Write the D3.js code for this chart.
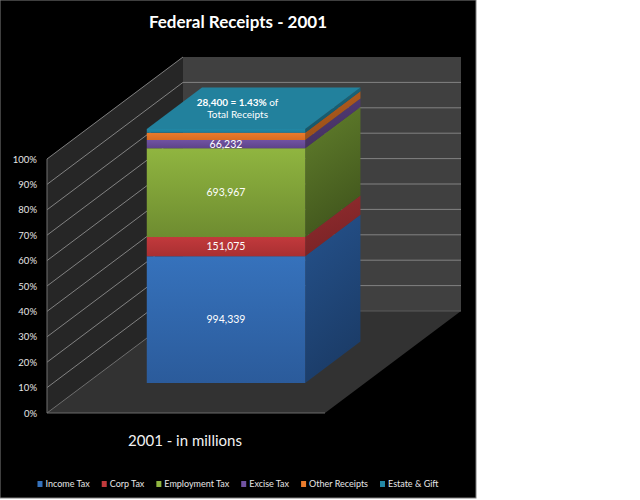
<!DOCTYPE html>
<html>
<head>
<meta charset="utf-8">
<script src="https://cdn.jsdelivr.net/npm/d3@7"></script>
<style>
  body { margin: 0; background: #fff; }
  svg text { font-family: Lato, "Noto Sans", sans-serif; }
</style>
</head>
<body>
<svg id="chart" width="640" height="500"></svg>
<script>
// data
const years = ["2001"];
const categories = ["Income Tax", "Corp Tax", "Employment Tax", "Excise Tax", "Other Receipts", "Estate & Gift"];
const receipts = [994339, 151075, 693967, 66232, 57069, 28400];
const labelled = ["Income Tax", "Corp Tax", "Employment Tax", "Excise Tax"];
const percentTicks = [0, 0.1, 0.2, 0.3, 0.4, 0.5, 0.6, 0.7, 0.8, 0.9, 1];

// colours: [front top, front bottom, side top, side bottom]
const colours = {
  "Income Tax":     ["#3672bc", "#2b5b9b", "#25528c", "#1b3c68"],
  "Corp Tax":       ["#c23a3c", "#a92f32", "#922c2e", "#7a2326"],
  "Employment Tax": ["#90b540", "#6e8c30", "#62802c", "#42571d"],
  "Excise Tax":     ["#7153a3", "#5d4389", "#523c78", "#45305f"],
  "Other Receipts": ["#ea7b2c", "#d86c21", "#b35e1f", "#9a4f18"],
  "Estate & Gift":  ["#2287a5", "#1e7c98", "#196980", "#145669"]
};
const topColour = "#22819d";

const panelW = 476, panelH = 498;

// 3d frame
const origin = { x: 47, y: 413 };
const plotW = 278, plotH = 254;
const depth = { x: 136, y: 102 };
const barZ = [0.294, 0.70];

const svg = d3.select("#chart");
const defs = svg.append("defs");

svg.append("rect")
  .attr("x", 0).attr("y", 0)
  .attr("width", panelW).attr("height", panelH)
  .attr("fill", "#000")
  .attr("stroke", "#7f7f7f").attr("stroke-width", 1);

const x = d3.scaleBand().domain(years).range([0, plotW]).padding(0.274);
const y = d3.scaleLinear().domain([0, 1]).range([origin.y, origin.y - plotH]);

const px = (v, z) => origin.x + v + z * depth.x;
const py = (v, z) => y(v) - z * depth.y;
const pt = (vx, vy, z) => [px(vx, z), py(vy, z)];
const line = d3.line();

// walls
svg.append("path")
  .attr("d", line([pt(0, 0, 0), pt(0, 1, 0), pt(0, 1, 1), pt(0, 0, 1)]) + "Z")
  .attr("fill", "#262626");
svg.append("path")
  .attr("d", line([pt(0, 0, 1), pt(0, 1, 1), pt(plotW, 1, 1), pt(plotW, 0, 1)]) + "Z")
  .attr("fill", "#404040");
svg.append("path")
  .attr("d", line([pt(0, 0, 0), pt(plotW, 0, 0), pt(plotW, 0, 1), pt(0, 0, 1)]) + "Z")
  .attr("fill", "#323232");

// gridlines
const grid = svg.append("g");
grid.selectAll(".side")
  .data(percentTicks.slice(1))
  .join("path")
  .attr("d", t => line([pt(0, t, 0), pt(0, t, 1)]))
  .attr("stroke", "#8c8c8c").attr("stroke-width", 0.9);
grid.selectAll(".back")
  .data(percentTicks.slice(1, -1))
  .join("path")
  .attr("d", t => line([pt(0, t, 1), pt(plotW, t, 1)]))
  .attr("stroke", "#828282").attr("stroke-width", 1);
grid.append("path")
  .attr("d", line([pt(0, 0, 0), pt(0, 1, 0)]))
  .attr("stroke", "#707070");
grid.append("path")
  .attr("d", line([pt(0, 0, 0), pt(plotW, 0, 0)]))
  .attr("stroke", "#6a6a6a");
grid.append("path")
  .attr("d", line([pt(0, 0, 0), pt(0, 0, 1)]))
  .attr("stroke", "#707070");
grid.append("path")
  .attr("d", line([pt(0, 0, 1), pt(plotW, 0, 1)]))
  .attr("stroke", "#5a5a5a");

// y axis
const axis = svg.append("g")
  .attr("transform", `translate(${origin.x},0)`)
  .call(d3.axisLeft(y).tickValues(percentTicks).tickFormat(d3.format(".0%")).tickSize(0).tickPadding(10));
axis.select(".domain").remove();
axis.selectAll("text")
  .attr("fill", "#e6e6e6")
  .style("font-size", "9.5px")
  .style("font-family", "Lato, sans-serif");

// stacked bar
const row = { year: years[0] };
categories.forEach((c, i) => row[c] = receipts[i]);
const series = d3.stack().keys(categories).offset(d3.stackOffsetExpand)([row]);
const total = d3.sum(receipts);

categories.forEach((c, i) => {
  const cl = colours[c];
  const gf = defs.append("linearGradient").attr("id", "f" + i)
    .attr("x1", 0).attr("y1", 0).attr("x2", 0).attr("y2", 1);
  gf.append("stop").attr("offset", 0).attr("stop-color", cl[0]);
  gf.append("stop").attr("offset", 1).attr("stop-color", cl[1]);
  const gs = defs.append("linearGradient").attr("id", "s" + i)
    .attr("x1", 0).attr("y1", 0).attr("x2", 0.3).attr("y2", 1);
  gs.append("stop").attr("offset", 0).attr("stop-color", cl[2]);
  gs.append("stop").attr("offset", 1).attr("stop-color", cl[3]);
});

const x0 = x(years[0]), x1 = x0 + x.bandwidth();
const [zf, zb] = barZ;
const bar = svg.append("g");

series.forEach((s, i) => {
  const [lo, hi] = s[0];
  bar.append("path")
    .attr("d", line([pt(x1, lo, zf), pt(x1, lo, zb), pt(x1, hi, zb), pt(x1, hi, zf)]) + "Z")
    .attr("fill", `url(#s${i})`);
  bar.append("path")
    .attr("d", line([pt(x0, lo, zf), pt(x1, lo, zf), pt(x1, hi, zf), pt(x0, hi, zf)]) + "Z")
    .attr("fill", `url(#f${i})`);
});

// top face
bar.append("path")
  .attr("d", line([pt(x0, 1, zf), pt(x1, 1, zf), pt(x1, 1, zb), pt(x0, 1, zb)]) + "Z")
  .attr("fill", topColour);

// value labels on front face
const cx = px(x0 + x.bandwidth() / 2, zf);
series.filter(s => labelled.includes(s.key)).forEach(s => {
  const [lo, hi] = s[0];
  svg.append("text")
    .attr("x", cx)
    .attr("y", py((lo + hi) / 2, zf))
    .attr("dy", "0.35em")
    .attr("text-anchor", "middle")
    .attr("fill", "#fff")
    .style("font-size", "10.5px")
    .text(d3.format(",")(s[0].data[s.key]));
});

// estate & gift label on top face
const estate = receipts[categories.indexOf("Estate & Gift")];
const tx = px(x0 + x.bandwidth() / 2, (zf + zb) / 2) - 16;
const ty = py(1, (zf + zb) / 2);
const tl = svg.append("text")
  .attr("x", tx).attr("y", ty - 2)
  .attr("text-anchor", "middle")
  .attr("fill", "#fff")
  .style("font-size", "10px");
tl.append("tspan").style("font-weight", "bold")
  .text(`${d3.format(",")(estate)} = ${d3.format(".2%")(estate / total)}`);
tl.append("tspan").text(" of");
svg.append("text")
  .attr("x", tx).attr("y", ty + 10)
  .attr("text-anchor", "middle")
  .attr("fill", "#fff")
  .style("font-size", "10px")
  .text("Total Receipts");

// title and x label
svg.append("text")
  .attr("x", panelW / 2).attr("y", 28)
  .attr("text-anchor", "middle")
  .attr("fill", "#fff")
  .style("font-size", "17px").style("font-weight", "bold")
  .text("Federal Receipts - 2001");

svg.append("text")
  .attr("x", origin.x + plotW / 2 - 1).attr("y", 446)
  .attr("text-anchor", "middle")
  .attr("fill", "#f2f2f2")
  .style("font-size", "15px")
  .text(years[0] + " - in millions");

// legend
const legend = svg.append("g");
let lx = 0;
categories.forEach((c, i) => {
  const item = legend.append("g").attr("transform", `translate(${lx},0)`);
  item.append("rect")
    .attr("x", 0).attr("y", -6).attr("width", 5).attr("height", 6)
    .attr("fill", colours[c][0]);
  const t = item.append("text")
    .attr("x", 8).attr("y", 0)
    .attr("fill", "#e6e6e6")
    .style("font-size", "9px")
    .text(c);
  lx += 8 + t.node().getComputedTextLength() + 12;
});
lx -= 12;
legend.attr("transform", `translate(${(panelW - lx) / 2},487)`);
</script>
</body>
</html>
